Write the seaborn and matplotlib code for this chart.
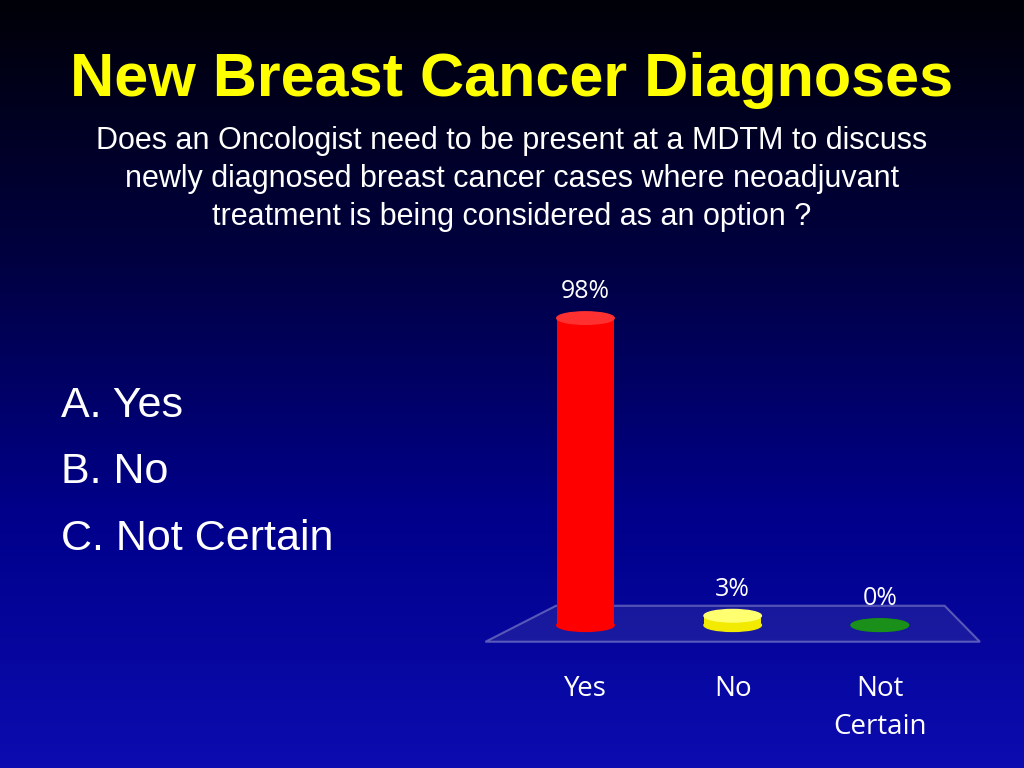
import numpy as np
import pandas as pd
import matplotlib
matplotlib.use("Agg")
import matplotlib.pyplot as plt
from matplotlib.patches import Ellipse, Polygon
import seaborn as sns

categories = ["Yes", "No", "Not\nCertain"]
values = [98, 3, 0]
value_labels = ["98%", "3%", "0%"]
bar_colors = ["#ff0000", "#f2ea00", "#0a7a0a"]
top_colors = ["#ff3030", "#ffff70", "#1a8f1a"]
options = ["A. Yes", "B. No", "C. Not Certain"]

SANS = ["Liberation Sans", "Arimo", "Arial", "DejaVu Sans"]

fig = plt.figure(figsize=(10.24, 7.68), dpi=100)

# background gradient: black at top to navy at bottom
bg = fig.add_axes([0, 0, 1, 1], zorder=0)
grad = np.linspace(0, 1, 256).reshape(-1, 1)
cmap = matplotlib.colors.LinearSegmentedColormap.from_list("bg", ["#000008", "#000040", "#00008a", "#0c0cb0"])
bg.imshow(grad, aspect="auto", cmap=cmap, extent=[0, 1, 0, 1], origin="upper")
bg.axis("off")

fig.text(0.5, 0.895, "New Breast Cancer Diagnoses", ha="center", va="center",
         color="#ffff00", fontsize=44, fontweight="bold", fontfamily=SANS)
fig.text(0.5, 0.767, "Does an Oncologist need to be present at a MDTM to discuss\n"
         "newly diagnosed breast cancer cases where neoadjuvant\n"
         "treatment is being considered as an option ?",
         ha="center", va="center", color="white", fontsize=22,
         fontfamily=SANS, linespacing=1.35)
for i, opt in enumerate(options):
    fig.text(0.06, 0.472 - i * 0.087, opt, color="white", fontsize=31,
             fontfamily=SANS, va="center")

ax = fig.add_axes([0.474, 0.186, 0.483, 0.408], zorder=1)
ax.patch.set_alpha(0)
df = pd.DataFrame({"cat": categories, "val": values})
sns.barplot(data=df, x="cat", y="val", hue="cat", palette=bar_colors, saturation=1,
            width=0.39, legend=False, ax=ax, zorder=3)
ax.set_xlim(-0.68, 2.68)
ax.set_ylim(0, 100)

# floor plane
floor = Polygon([(-0.68, -5.3), (2.68, -5.3), (2.44, 6.2), (-0.2, 6.2)],
                closed=True, facecolor="#4040a8", edgecolor="#e0e0f0",
                alpha=0.35, lw=1.5, zorder=1, clip_on=False)
ax.add_patch(floor)

for i, v in enumerate(values):
    ax.add_patch(Ellipse((i, 0), 0.39, 4.0, color=bar_colors[i], zorder=2, clip_on=False))
    ax.add_patch(Ellipse((i, v), 0.39, 4.0, color=top_colors[i], zorder=4, clip_on=False))
    ax.text(i, v + 4.5, value_labels[i], ha="center", va="bottom",
            color="white", fontsize=18, family="Open Sans")

ax.set_xticks(range(len(categories)))
ax.set_xticklabels(categories, color="white", fontsize=20, family="Open Sans", linespacing=1.45)
ax.tick_params(axis="x", length=0, pad=36)
ax.set_yticks([])
ax.set_xlabel("")
ax.set_ylabel("")
for s in ax.spines.values():
    s.set_visible(False)

fig.savefig("out.png", dpi=100)
